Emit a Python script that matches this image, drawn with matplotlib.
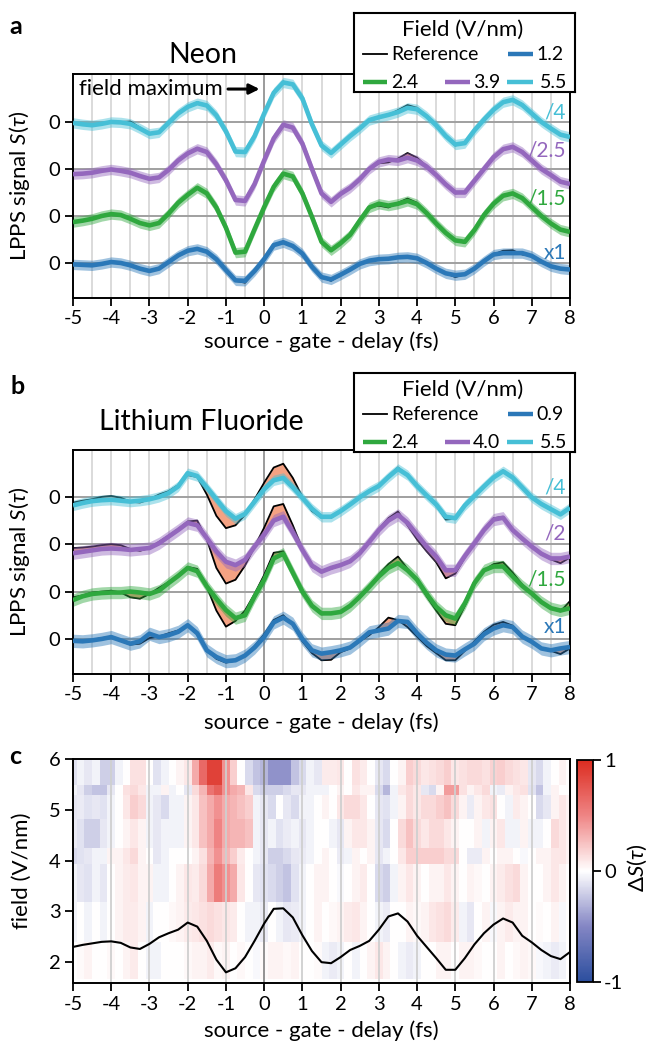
import numpy as np
import matplotlib
matplotlib.use("Agg")
import matplotlib.pyplot as plt
from matplotlib.colors import LinearSegmentedColormap

plt.rcParams['font.family'] = ['Lato', 'DejaVu Sans']
plt.rcParams['axes.unicode_minus'] = False
plt.rcParams['mathtext.fontset'] = 'custom'
plt.rcParams['mathtext.rm'] = 'Lato'
plt.rcParams['mathtext.it'] = 'Lato:italic'
plt.rcParams['mathtext.fallback'] = 'stixsans'

# ---------------- data ----------------
delay = [-5.0, -4.75, -4.5, -4.25, -4.0, -3.75, -3.5, -3.25, -3.0, -2.75, -2.5, -2.25, -2.0,
         -1.75, -1.5, -1.25, -1.0, -0.75, -0.5, -0.25, 0.0, 0.25, 0.5, 0.75, 1.0, 1.25, 1.5,
         1.75, 2.0, 2.25, 2.5, 2.75, 3.0, 3.25, 3.5, 3.75, 4.0, 4.25, 4.5, 4.75, 5.0, 5.25,
         5.5, 5.75, 6.0, 6.25, 6.5, 6.75, 7.0, 7.25, 7.5, 7.75, 8.0]

# Neon (panel a)
neon_fields = ["1.2", "2.4", "3.9", "5.5"]
neon_scale_labels = ["x1", "/1.5", "/2.5", "/4"]
neon_12 = [-0.03, -0.04, -0.05, -0.02, 0.02, 0.00, -0.05, -0.12, -0.17, -0.12, 0.02, 0.16, 0.26, 0.30, 0.24, 0.08, -0.15, -0.37, -0.38, -0.17, 0.08, 0.38, 0.44, 0.36, 0.20, -0.08, -0.30, -0.35, -0.25, -0.14, -0.02, 0.05, 0.08, 0.09, 0.12, 0.13, 0.10, 0.00, -0.12, -0.22, -0.26, -0.24, -0.12, 0.04, 0.18, 0.21, 0.21, 0.21, 0.15, 0.03, -0.07, -0.12, -0.14]
neon_12_ref = [-0.03, -0.04, -0.05, -0.02, 0.02, 0.00, -0.05, -0.12, -0.17, -0.12, 0.02, 0.16, 0.26, 0.30, 0.24, 0.08, -0.15, -0.38, -0.42, -0.17, 0.08, 0.38, 0.46, 0.36, 0.20, -0.08, -0.30, -0.38, -0.25, -0.14, -0.02, 0.05, 0.08, 0.09, 0.12, 0.15, 0.10, 0.00, -0.12, -0.22, -0.30, -0.24, -0.12, 0.04, 0.18, 0.26, 0.27, 0.18, 0.15, 0.03, -0.07, -0.12, -0.14]
neon_24 = [-0.13, -0.10, -0.06, 0.00, 0.04, 0.02, -0.06, -0.15, -0.20, -0.15, 0.05, 0.28, 0.45, 0.60, 0.48, 0.18, -0.25, -0.78, -0.76, -0.28, 0.19, 0.62, 0.90, 0.84, 0.48, -0.02, -0.55, -0.73, -0.58, -0.40, -0.10, 0.18, 0.26, 0.22, 0.26, 0.32, 0.25, 0.06, -0.16, -0.36, -0.52, -0.55, -0.30, 0.02, 0.26, 0.43, 0.48, 0.38, 0.19, 0.00, -0.16, -0.29, -0.34]
neon_24_ref = [-0.13, -0.10, -0.06, 0.00, 0.04, 0.02, -0.06, -0.15, -0.20, -0.15, 0.05, 0.28, 0.45, 0.58, 0.48, 0.18, -0.25, -0.78, -0.76, -0.28, 0.19, 0.62, 0.88, 0.84, 0.48, -0.02, -0.55, -0.73, -0.58, -0.40, -0.10, 0.18, 0.22, 0.18, 0.28, 0.37, 0.28, 0.06, -0.16, -0.36, -0.52, -0.57, -0.30, 0.02, 0.26, 0.43, 0.48, 0.38, 0.19, 0.00, -0.16, -0.29, -0.34]
neon_39 = [-0.11, -0.10, -0.08, -0.04, -0.01, -0.04, -0.08, -0.15, -0.21, -0.18, -0.02, 0.18, 0.33, 0.43, 0.36, 0.10, -0.24, -0.66, -0.68, -0.32, 0.18, 0.65, 0.94, 0.88, 0.54, 0.00, -0.52, -0.70, -0.53, -0.40, -0.22, 0.00, 0.15, 0.20, 0.18, 0.24, 0.18, 0.05, -0.13, -0.33, -0.50, -0.50, -0.25, 0.00, 0.25, 0.42, 0.47, 0.36, 0.18, 0.00, -0.13, -0.27, -0.32]
neon_39_ref = [-0.11, -0.10, -0.08, -0.04, -0.01, -0.04, -0.08, -0.15, -0.21, -0.18, -0.02, 0.18, 0.33, 0.45, 0.36, 0.10, -0.24, -0.66, -0.68, -0.32, 0.18, 0.65, 0.92, 0.88, 0.54, 0.00, -0.52, -0.70, -0.53, -0.40, -0.22, 0.00, 0.12, 0.14, 0.22, 0.34, 0.24, 0.05, -0.13, -0.33, -0.52, -0.50, -0.25, 0.00, 0.25, 0.42, 0.49, 0.36, 0.18, 0.00, -0.13, -0.27, -0.32]
neon_55 = [-0.02, -0.05, -0.07, -0.04, 0.00, -0.01, -0.04, -0.14, -0.25, -0.22, -0.02, 0.18, 0.32, 0.40, 0.35, 0.14, -0.20, -0.63, -0.64, -0.30, 0.18, 0.62, 0.84, 0.80, 0.50, -0.05, -0.50, -0.66, -0.48, -0.30, -0.14, 0.04, 0.10, 0.15, 0.21, 0.30, 0.27, 0.12, -0.07, -0.30, -0.48, -0.45, -0.18, 0.05, 0.26, 0.42, 0.47, 0.36, 0.18, 0.00, -0.14, -0.27, -0.32]
neon_55_ref = [-0.02, -0.05, -0.07, -0.04, 0.00, 0.00, 0.01, -0.12, -0.25, -0.22, -0.02, 0.18, 0.32, 0.42, 0.35, 0.14, -0.20, -0.63, -0.64, -0.30, 0.18, 0.62, 0.86, 0.80, 0.50, -0.05, -0.50, -0.66, -0.48, -0.30, -0.14, 0.04, 0.10, 0.15, 0.25, 0.36, 0.30, 0.12, -0.07, -0.30, -0.50, -0.45, -0.18, 0.05, 0.26, 0.42, 0.49, 0.38, 0.16, 0.00, -0.14, -0.27, -0.32]
neon_band = [0.11, 0.11, 0.11, 0.11]

# Lithium fluoride (panel b)
lif_fields = ["0.9", "2.4", "4.0", "5.5"]
lif_scale_labels = ["x1", "/1.5", "/2", "/4"]
lif_09 = [-0.04, -0.05, -0.03, 0.00, 0.04, -0.03, -0.10, -0.05, 0.11, 0.04, 0.08, 0.15, 0.29, 0.12, -0.24, -0.38, -0.47, -0.45, -0.35, -0.18, 0.04, 0.35, 0.45, 0.32, 0.00, -0.24, -0.31, -0.28, -0.24, -0.18, -0.03, 0.14, 0.18, 0.22, 0.38, 0.36, 0.12, -0.08, -0.24, -0.33, -0.35, -0.22, -0.10, 0.10, 0.22, 0.29, 0.25, 0.05, -0.06, -0.20, -0.24, -0.20, -0.17]
lif_09_ref = [-0.06, -0.05, -0.02, 0.02, 0.04, -0.04, -0.12, -0.10, 0.02, 0.05, 0.12, 0.18, 0.28, 0.10, -0.24, -0.42, -0.50, -0.46, -0.35, -0.15, 0.10, 0.40, 0.50, 0.30, -0.05, -0.30, -0.45, -0.44, -0.28, -0.20, -0.05, 0.08, 0.25, 0.45, 0.40, 0.25, 0.05, -0.15, -0.30, -0.45, -0.45, -0.25, -0.05, 0.15, 0.30, 0.36, 0.28, 0.05, -0.08, -0.20, -0.25, -0.32, -0.20]
lif_24 = [-0.18, -0.10, -0.05, -0.03, -0.02, -0.02, 0.00, -0.02, -0.05, 0.02, 0.18, 0.33, 0.50, 0.43, 0.11, -0.15, -0.39, -0.56, -0.50, -0.10, 0.25, 0.70, 0.80, 0.40, 0.00, -0.30, -0.46, -0.46, -0.43, -0.30, -0.11, 0.10, 0.32, 0.50, 0.60, 0.45, 0.25, -0.05, -0.32, -0.50, -0.57, -0.25, 0.18, 0.45, 0.53, 0.53, 0.32, 0.12, -0.04, -0.22, -0.35, -0.40, -0.35]
lif_24_ref = [-0.12, -0.08, -0.02, 0.00, 0.02, -0.02, -0.12, -0.15, -0.05, 0.08, 0.20, 0.35, 0.52, 0.48, 0.10, -0.40, -0.74, -0.62, -0.40, -0.05, 0.35, 0.82, 0.85, 0.42, 0.00, -0.32, -0.48, -0.46, -0.42, -0.30, -0.10, 0.12, 0.36, 0.58, 0.74, 0.48, 0.22, -0.10, -0.40, -0.68, -0.71, -0.30, 0.15, 0.45, 0.58, 0.62, 0.40, 0.15, -0.05, -0.22, -0.35, -0.42, -0.20]
lif_40 = [-0.19, -0.16, -0.13, -0.10, -0.09, -0.10, -0.12, -0.10, -0.08, 0.02, 0.16, 0.30, 0.45, 0.40, 0.13, -0.15, -0.37, -0.44, -0.33, -0.05, 0.20, 0.50, 0.58, 0.25, -0.12, -0.45, -0.58, -0.50, -0.44, -0.36, -0.19, 0.05, 0.30, 0.50, 0.62, 0.45, 0.20, -0.05, -0.26, -0.55, -0.55, -0.25, 0.02, 0.30, 0.52, 0.56, 0.30, 0.12, -0.05, -0.20, -0.30, -0.30, -0.26]
lif_40_ref = [-0.08, -0.07, -0.05, -0.02, 0.00, -0.02, -0.10, -0.14, -0.08, 0.05, 0.18, 0.32, 0.48, 0.50, 0.10, -0.50, -0.83, -0.75, -0.45, -0.05, 0.35, 0.80, 0.85, 0.40, -0.10, -0.48, -0.58, -0.52, -0.44, -0.36, -0.20, 0.05, 0.32, 0.55, 0.69, 0.40, 0.10, -0.15, -0.38, -0.72, -0.62, -0.28, 0.02, 0.30, 0.55, 0.58, 0.32, 0.10, -0.05, -0.20, -0.32, -0.40, -0.28]
lif_55 = [-0.18, -0.13, -0.09, -0.07, -0.06, -0.08, -0.10, -0.08, -0.05, 0.00, 0.08, 0.22, 0.50, 0.44, 0.20, -0.05, -0.30, -0.46, -0.36, -0.10, 0.16, 0.35, 0.40, 0.20, -0.02, -0.25, -0.42, -0.42, -0.30, -0.16, -0.01, 0.12, 0.23, 0.42, 0.59, 0.46, 0.23, 0.03, -0.16, -0.42, -0.45, -0.18, 0.02, 0.22, 0.41, 0.54, 0.41, 0.20, -0.01, -0.15, -0.26, -0.37, -0.23]
lif_55_ref = [-0.12, -0.08, -0.05, 0.00, 0.02, -0.02, -0.10, -0.12, -0.05, 0.05, 0.12, 0.25, 0.46, 0.42, 0.05, -0.40, -0.66, -0.60, -0.38, -0.05, 0.30, 0.62, 0.70, 0.40, 0.00, -0.30, -0.44, -0.44, -0.30, -0.16, -0.01, 0.12, 0.23, 0.44, 0.62, 0.46, 0.22, 0.02, -0.18, -0.48, -0.46, -0.18, 0.02, 0.22, 0.42, 0.56, 0.42, 0.20, -0.01, -0.15, -0.26, -0.37, -0.23]
lif_band = [0.14, 0.13, 0.13, 0.11]

# Panel c: difference map
map_delay = [-5.0, -4.8, -4.6, -4.4, -4.2, -4.0, -3.8, -3.6, -3.4, -3.2, -3.0, -2.8, -2.6, -2.4,
             -2.2, -2.0, -1.8, -1.6, -1.4, -1.2, -1.0, -0.8, -0.6, -0.4, -0.2, 0.0, 0.2, 0.4,
             0.6, 0.8, 1.0, 1.2, 1.4, 1.6, 1.8, 2.0, 2.2, 2.4, 2.6, 2.8, 3.0, 3.2, 3.4, 3.6,
             3.8, 4.0, 4.2, 4.4, 4.6, 4.8, 5.0, 5.2, 5.4, 5.6, 5.8, 6.0, 6.2, 6.4, 6.6, 6.8,
             7.0, 7.2, 7.4, 7.6, 7.8, 8.0]
field_edges = [1.66, 2.39, 3.18, 3.94, 4.25, 4.81, 5.30, 5.49, 6.0]
dS_row1 = [0.00, 0.02, 0.05, 0.00, 0.00, 0.03, 0.00, 0.05, 0.08, 0.00, -0.05, -0.05, 0.00, 0.00, 0.00, 0.03, 0.05, 0.05, 0.08, 0.03, 0.05, 0.00, 0.03, 0.00, -0.03, 0.02, 0.05, 0.05, 0.03, 0.05, 0.00, 0.00, 0.02,
           -0.05, -0.08, -0.05, 0.00, -0.05, 0.00, 0.05, 0.10, 0.05, 0.00, -0.05, -0.08, -0.05, 0.00, 0.00, 0.05, 0.05, 0.00, 0.05, 0.05, 0.03, 0.00, 0.00, 0.05, 0.00, 0.03, 0.05, 0.03, -0.03, -0.05, -0.08, -0.05, 0.00]
dS_row2 = [-0.05, 0.00, -0.05, 0.00, -0.05, 0.00, 0.05, 0.08, 0.08, 0.05, -0.05, 0.00, 0.00, 0.03, 0.05, 0.08, 0.10, 0.12, 0.15, 0.12, 0.10, 0.08, 0.00, -0.05, -0.05, -0.08, 0.00, -0.05, -0.10, -0.08, -0.05, 0.00, 0.05,
           0.00, 0.03, 0.05, 0.08, 0.10, 0.05, 0.00, -0.05, -0.08, 0.00, 0.00, 0.05, 0.03, 0.05, 0.10, 0.12, 0.15, 0.08, -0.05, -0.10, 0.00, 0.05, -0.03, 0.05, 0.08, 0.05, 0.05, 0.00, 0.02, 0.00, 0.05, -0.03, 0.00]
dS_row3 = [-0.05, -0.10, -0.12, -0.05, -0.10, 0.00, 0.05, 0.08, 0.10, 0.05, 0.05, -0.05, -0.05, 0.00, 0.05, 0.10, 0.08, 0.15, 0.35, 0.55, 0.45, 0.35, 0.10, 0.00, -0.10, -0.12, -0.15, -0.20, -0.25, -0.12, -0.05, 0.00, 0.05,
           0.05, 0.00, -0.03, 0.00, 0.05, 0.08, 0.00, -0.15, -0.20, -0.05, 0.05, 0.10, 0.05, 0.00, 0.05, 0.05, 0.10, 0.05, 0.00, 0.05, 0.03, 0.00, 0.05, 0.08, 0.12, 0.15, 0.05, 0.00, 0.00, 0.05, 0.10, 0.05, 0.00]
dS_row4 = [-0.15, -0.12, -0.10, -0.05, -0.05, 0.05, 0.05, 0.10, 0.15, 0.05, 0.00, -0.10, -0.05, 0.00, 0.00, 0.00, 0.05, 0.12, 0.30, 0.45, 0.30, 0.20, 0.08, 0.00, -0.05, -0.10, -0.20, -0.20, -0.15, -0.10, -0.08, -0.05, 0.00,
           0.05, 0.00, -0.08, -0.05, 0.05, 0.00, 0.05, -0.10, -0.05, 0.00, 0.10, 0.20, 0.20, 0.20, 0.20, 0.20, 0.15, 0.15, 0.00, -0.08, -0.08, 0.05, 0.00, 0.05, 0.05, 0.00, -0.03, 0.00, 0.05, 0.05, 0.10, 0.10, 0.05]
dS_row5 = [-0.08, -0.12, -0.20, -0.20, -0.10, -0.05, 0.00, 0.05, 0.10, 0.05, -0.05, -0.10, -0.05, -0.05, -0.05, 0.05, 0.10, 0.25, 0.35, 0.50, 0.35, 0.30, 0.30, 0.25, -0.05, -0.10, -0.05, -0.12, -0.08, -0.05, -0.10, -0.05, 0.00,
           0.00, -0.05, -0.10, 0.05, 0.10, 0.10, 0.05, -0.10, -0.15, 0.00, 0.15, 0.25, 0.15, 0.10, 0.15, 0.15, 0.10, 0.05, 0.00, 0.00, 0.05, -0.05, 0.05, 0.10, -0.05, -0.05, 0.05, -0.05, -0.05, 0.00, 0.15, 0.10, 0.05]
dS_row6 = [-0.10, -0.08, -0.12, -0.10, -0.12, -0.05, 0.00, 0.10, 0.20, 0.15, -0.05, -0.10, -0.15, -0.05, -0.05, 0.05, 0.10, 0.25, 0.35, 0.45, 0.35, 0.30, 0.25, 0.20, -0.05, -0.10, -0.15, 0.00, -0.10, -0.15, -0.05, -0.05, 0.00,
           0.05, 0.00, 0.10, 0.15, 0.15, 0.10, 0.00, -0.10, -0.12, -0.05, 0.05, 0.15, 0.10, 0.15, 0.15, 0.20, 0.25, 0.15, 0.05, -0.08, 0.05, 0.10, 0.12, 0.00, -0.05, 0.08, 0.05, 0.00, -0.15, -0.10, 0.05, 0.10, 0.05]
dS_row7 = [-0.05, -0.10, -0.20, -0.25, -0.25, -0.10, 0.00, 0.12, 0.15, 0.10, -0.05, -0.05, 0.05, -0.05, 0.00, -0.10, 0.15, 0.30, 0.60, 0.70, 0.45, 0.35, 0.30, 0.10, -0.15, -0.20, -0.20, -0.20, -0.15, -0.10, -0.10, -0.05, -0.05,
           -0.05, 0.00, 0.05, 0.00, 0.10, 0.05, 0.05, -0.15, -0.30, -0.05, 0.10, 0.15, 0.10, -0.10, -0.15, 0.05, 0.40, 0.40, 0.12, 0.05, 0.10, 0.15, -0.05, -0.08, 0.05, 0.10, 0.12, -0.12, -0.25, -0.05, 0.05, 0.00, 0.00]
dS_row8 = [-0.12, -0.05, -0.10, -0.05, -0.20, -0.20, -0.05, 0.00, 0.12, 0.12, 0.00, -0.12, -0.05, 0.00, 0.05, 0.10, 0.35, 0.65, 0.88, 0.88, 0.45, 0.20, 0.00, -0.15, -0.25, -0.30, -0.45, -0.45, -0.45, -0.25, -0.15, -0.05, -0.10,
           0.08, 0.08, 0.10, 0.00, 0.12, 0.08, 0.00, -0.10, -0.15, 0.00, 0.05, 0.20, 0.15, 0.10, 0.12, 0.15, 0.20, 0.10, 0.12, 0.15, 0.15, 0.12, 0.18, 0.20, 0.15, 0.12, 0.10, -0.10, -0.15, -0.05, 0.00, 0.05, 0.00]
field_trace = [2.30, 2.34, 2.37, 2.40, 2.41, 2.38, 2.29, 2.26, 2.36, 2.49, 2.57, 2.64, 2.78, 2.70, 2.42, 2.05, 1.80, 1.88, 2.10, 2.42, 2.76, 3.05, 3.06, 2.88, 2.53, 2.22, 2.00, 1.98, 2.10, 2.24, 2.32, 2.42, 2.64, 2.90, 2.96, 2.80, 2.52, 2.30, 2.08, 1.85, 1.85, 2.08, 2.35, 2.57, 2.74, 2.86, 2.78, 2.52, 2.39, 2.24, 2.12, 2.06, 2.20]

# ---------------- style ----------------
colors = ['#2b78b8', '#2fa83e', '#9467bd', '#46bfd6']
salmon = '#f4a283'
TICK = 14.5
LAB = 16

W, H = 648, 1044
fig = plt.figure(figsize=(W / 100, H / 100), dpi=100)


def box(l, t, r, b):
    return [l / W, 1 - b / H, (r - l) / W, (b - t) / H]


def style_axes(ax):
    for s in ax.spines.values():
        s.set_linewidth(1.4)
    ax.tick_params(direction='out', length=6, width=1.3, labelsize=TICK, pad=3)


def stacked(ax, meas, refs, bands, scale_labels, ylim, label_y):
    x = np.array(delay)
    for g in np.arange(-4.5, 8.0, 0.5):
        if g != 0:
            ax.axvline(g, color='#dadada', lw=1.4, zorder=0)
    ax.axvline(0, color='#8a8a8a', lw=1.2, zorder=0.5)
    for k in range(4):
        off = k
        m = np.array(meas[k]) + off
        r = np.array(refs[k]) + off
        ax.axhline(off, color='#a0a0a0', lw=1.4, zorder=0.6)
        ax.fill_between(x, m, r, color=salmon, lw=0, zorder=1)
        ax.plot(x, r, color='k', lw=1.3, zorder=1.5)
        ax.fill_between(x, m - bands[k], m + bands[k], color=colors[k], alpha=0.45, lw=0, zorder=2)
        ax.plot(x, m, color=colors[k], lw=3.3, zorder=3, solid_capstyle='butt',
                solid_joinstyle='round')
        ax.text(7.9, label_y[k], scale_labels[k], color=colors[k], fontsize=15,
                ha='right', va='center', zorder=5)
    ax.set_xlim(-5, 8)
    ax.set_ylim(*ylim)
    ax.set_xticks(range(-5, 9))
    ax.set_yticks([0, 1, 2, 3])
    ax.set_yticklabels(['0'] * 4)
    ax.set_xlabel('source - gate - delay (fs)', fontsize=LAB)
    ax.set_ylabel(r'LPPS signal $S(\tau)$', fontsize=LAB)
    ax.yaxis.set_label_coords(-0.083, 0.5)
    style_axes(ax)


def legend_box(top, fields):
    lax = fig.add_axes(box(354, top, 575, top + 79))
    lax.set_xlim(354, 575)
    lax.set_ylim(top + 79, top)
    lax.set_xticks([])
    lax.set_yticks([])
    for s in lax.spines.values():
        s.set_linewidth(1.5)
    lax.set_zorder(10)
    lax.text(463, top + 17, 'Field (V/nm)', fontsize=16, ha='center', va='center')
    y1, y2 = top + 41, top + 69
    lax.plot([363, 387], [y1, y1], color='k', lw=1.3)
    lax.text(391, y1, 'Reference', fontsize=14, va='center')
    items = [(508, 533, y1, colors[0], fields[0], 536),
             (363, 387, y2, colors[1], fields[1], 391),
             (445, 470, y2, colors[2], fields[2], 473),
             (507, 533, y2, colors[3], fields[3], 540)]
    for x0, x1, yy, c, lab, xt in items:
        lax.plot([x0, x1], [yy, yy], color=c, lw=3.2, solid_capstyle='butt')
        lax.text(xt, yy, lab, fontsize=14, va='center')


# ---------------- panel a ----------------
ax_a = fig.add_axes(box(73, 74, 570, 298))
stacked(ax_a, [neon_12, neon_24, neon_39, neon_55],
        [neon_12_ref, neon_24_ref, neon_39_ref, neon_55_ref],
        neon_band, neon_scale_labels, (-0.745, 4.02), [0.21, 1.38, 2.40, 3.21])
ax_a.xaxis.set_label_coords(0.5, -0.15)
ax_a.annotate('field maximum', xy=(-0.12, 3.70), xytext=(-4.85, 3.70), fontsize=16,
              va='center', ha='left', zorder=6,
              arrowprops=dict(arrowstyle='-|>', lw=2.2, color='k', mutation_scale=15,
                              shrinkA=2, shrinkB=0))
fig.text(203 / W, 1 - 55 / H, 'Neon', fontsize=20.5, ha='center', va='center')
fig.text(16 / W, 1 - 26 / H, 'a', fontsize=18, fontweight='bold', ha='center', va='center')
legend_box(13, neon_fields)

# ---------------- panel b ----------------
ax_b = fig.add_axes(box(73, 450, 570, 674))
stacked(ax_b, [lif_09, lif_24, lif_40, lif_55],
        [lif_09_ref, lif_24_ref, lif_40_ref, lif_55_ref],
        lif_band, lif_scale_labels, (-0.74, 3.99), [0.25, 1.25, 2.22, 3.19])
ax_b.xaxis.set_label_coords(0.5, -0.17)
fig.text(201 / W, 1 - 422 / H, 'Lithium Fluoride', fontsize=20.5, ha='center', va='center')
fig.text(18 / W, 1 - 386 / H, 'b', fontsize=18, fontweight='bold', ha='center', va='center')
legend_box(373, lif_fields)

# ---------------- panel c ----------------
ax_c = fig.add_axes(box(73, 759, 570, 983))
cax = fig.add_axes(box(577, 760, 593, 982))
cmap = LinearSegmentedColormap.from_list(
    'dS', [(0.0, '#2b4e9e'), (0.25, '#8486c4'), (0.5, '#ffffff'), (0.75, '#ef8585'), (1.0, '#dc2c20')])
md = np.array(map_delay)
x_edges = np.concatenate([md - 0.1, [md[-1] + 0.1]])
Z = np.array([dS_row1, dS_row2, dS_row3, dS_row4, dS_row5, dS_row6, dS_row7, dS_row8])
mesh = ax_c.pcolormesh(x_edges, field_edges, Z, cmap=cmap, vmin=-1, vmax=1, zorder=0)
for g in range(-4, 8):
    ax_c.axvline(g, color='#8a8a8a' if g == 0 else '#cfcfcf', lw=1.3, zorder=1)
ax_c.plot(delay, field_trace, color='k', lw=1.5, zorder=3)
ax_c.set_xlim(-5, 8)
ax_c.set_ylim(1.59, 6.0)
ax_c.set_xticks(range(-5, 9))
ax_c.set_yticks([2, 3, 4, 5, 6])
ax_c.set_xlabel('source - gate - delay (fs)', fontsize=LAB)
ax_c.set_ylabel('field (V/nm)', fontsize=LAB)
ax_c.yaxis.set_label_coords(-0.083, 0.5)
ax_c.xaxis.set_label_coords(0.5, -0.165)
style_axes(ax_c)
cb = fig.colorbar(mesh, cax=cax, ticks=[-1, 0, 1])
cb.outline.set_linewidth(1.3)
cax.tick_params(direction='out', length=6, width=1.3, labelsize=TICK, pad=2)
cax.set_yticklabels(['-1', '0', '1'])
fig.text(637 / W, 1 - 868 / H, r'$\Delta S(\tau)$', fontsize=LAB, rotation=90,
         ha='center', va='center')
fig.text(15 / W, 1 - 757 / H, 'c', fontsize=18, fontweight='bold', ha='center', va='center')

fig.savefig('out.png', dpi=100)
